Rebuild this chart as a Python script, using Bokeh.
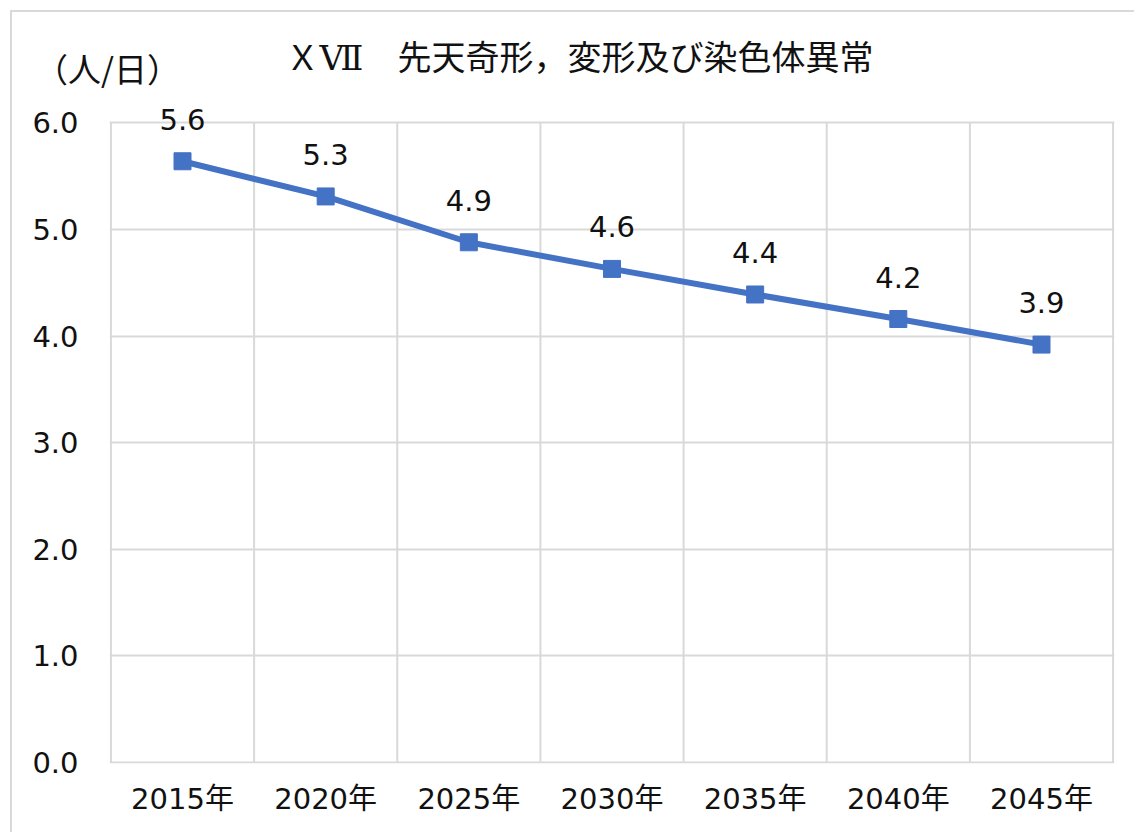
from bokeh.plotting import figure
from bokeh.layouts import column
from bokeh.models import (ColumnDataSource, LabelSet, Label, FixedTicker,
                          Range1d, NumeralTickFormatter)
from bokeh.core.properties import value
from bokeh.embed import file_html
from bokeh.resources import INLINE

# Daily patients, congenital malformations (chapter XVII), by projection year
years = ["2015年", "2020年", "2025年", "2030年", "2035年", "2040年", "2045年"]
patients = [5.64, 5.31, 4.88, 4.63, 4.39, 4.16, 3.92]
y_ticks = [0, 1, 2, 3, 4, 5, 6]

title_text = "ＸⅦ　先天奇形，変形及び染色体異常"
unit_text = "（人/日）"

JP_FONT = "Noto Sans CJK JP"
TITLE_FONT = "DejaVu Serif, Noto Sans CJK JP"
NUM_FONT = "DejaVu Sans, Noto Sans CJK JP"
BLUE = "#4472C4"
GRID = "#d9d9d9"
INK = "#111111"

W = 1122          # inner width of the chart box
HEAD_H = 88       # strip holding the title and the unit
BODY_H = 732      # plot body

n = len(years)
xs = [i + 0.5 for i in range(n)]
bounds = list(range(n + 1))
src = ColumnDataSource(dict(x=xs, y=patients,
                            label=[f"{v:.1f}" for v in patients]))
vgrid = ColumnDataSource(dict(x=bounds, y0=[y_ticks[0]] * len(bounds),
                              y1=[y_ticks[-1]] * len(bounds)))

# ---- heading strip: a bare canvas measured in pixels from its top-left
head = figure(width=W, height=HEAD_H, x_range=Range1d(0, W),
              y_range=Range1d(HEAD_H, 0), x_axis_type=None, y_axis_type=None,
              output_backend="svg", toolbar_location=None, title=None,
              min_border=0)
head.frame_align = False
head.outline_line_color = None
head.grid.visible = False
head.add_layout(Label(x=567, y=45, text=title_text,
                      text_align="center", text_baseline="middle",
                      text_font=TITLE_FONT, text_font_size="34px",
                      text_color=INK))
head.add_layout(Label(x=95, y=55, text=unit_text,
                      text_align="center", text_baseline="middle",
                      text_font=JP_FONT, text_font_size="33px", text_color=INK))

# ---- plot body
p = figure(width=W, height=BODY_H,
           x_range=Range1d(-0.01, n + 0.01), y_range=Range1d(-0.01, 6.21),
           output_backend="svg", toolbar_location=None, title=None,
           min_border_left=97, min_border_right=20,
           min_border_top=0, min_border_bottom=69)
p.frame_align = False
p.outline_line_color = None
p.background_fill_color = "white"
p.border_fill_color = "white"

# horizontal grid at every unit; vertical lines only between categories
p.xgrid.visible = False
p.ygrid.ticker = FixedTicker(ticks=y_ticks)
p.ygrid.grid_line_color = GRID
p.ygrid.grid_line_width = 2
p.segment(x0="x", y0="y0", x1="x", y1="y1", source=vgrid,
          line_color=GRID, line_width=2)

# axes
p.xaxis.ticker = FixedTicker(ticks=xs)
p.xaxis.major_label_overrides = {x: lab for x, lab in zip(xs, years)}
p.yaxis.ticker = FixedTicker(ticks=y_ticks)
p.yaxis.formatter = NumeralTickFormatter(format="0.0")
for ax in (p.xaxis, p.yaxis):
    ax.axis_line_color = None
    ax.major_tick_line_color = None
    ax.minor_tick_line_color = None
    ax.major_tick_out = 0
    ax.major_tick_in = 0
    ax.major_label_text_font = NUM_FONT
    ax.major_label_text_font_size = "29px"
    ax.major_label_text_color = INK
p.yaxis.major_label_standoff = 31
p.xaxis.major_label_standoff = 18

# series
p.line("x", "y", source=src, line_color=BLUE, line_width=6)
p.scatter("x", "y", source=src, marker="square", size=17,
          fill_color=BLUE, line_color=BLUE)

p.add_layout(LabelSet(x="x", y="y", text="label", source=src,
                      y_offset=42, text_align="center", text_baseline="middle",
                      text_font=value(NUM_FONT), text_font_size=value("29px"),
                      text_color=INK))

page = column(head, p, spacing=0, margin=(10, 0, 0, 10),
              styles={"border-left": f"2px solid {GRID}",
                      "border-top": f"2px solid {GRID}"})

open("out.html", "w").write(file_html(page, INLINE))
